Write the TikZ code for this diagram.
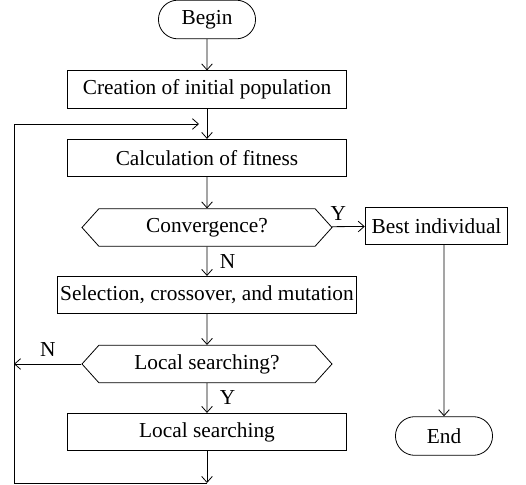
\documentclass[tikz,border=0pt]{standalone}
\usepackage{fontspec}
\setmainfont{Liberation Serif}
\usetikzlibrary{positioning,shapes.misc,shapes.symbols,arrows.meta}

\begin{document}
\begin{tikzpicture}[x=0.75pt,y=-0.75pt,line width=0.6pt,
  >={Straight Barb[length=4.5pt,width=8pt]},
  font=\fontsize{16}{18}\selectfont,
  box/.style={draw,minimum width=209pt,minimum height=28pt,inner sep=2pt},
  term/.style={draw,rounded rectangle,minimum width=79.5pt,minimum height=29pt},
  test/.style={draw,signal,signal to=east and west,signal pointer angle=96,
    minimum width=187.5pt,minimum height=28pt,inner sep=1pt}]
\useasboundingbox (0,0) rectangle (526,485);
\node[term] (begin) at (207,19.5) {Begin};
\node[box] (init) at (207,89.5) {Creation of initial population};
\node[box] (fit) at (207,158) {Calculation of fitness};
\node[test] (conv) at (207,227.5) {Convergence?};
\node[box,minimum width=107pt] (best) at (436.5,226) {Best individual};
\node[box,minimum width=223.5pt] (sel) at (207,295) {Selection, crossover, and mutation};
\node[test] (lsq) at (207,364) {Local searching?};
\node[box] (ls) at (207,432) {Local searching};
\node[term] (end) at (444,436) {End};
\coordinate (bot) at (207,483);
\coordinate (c1) at (14,483);
\coordinate (c2) at (14,124);
\coordinate (loopin) at (199,124);

\draw [->](begin)--(init);
\draw [->](init)--(fit);
\draw [->](fit)--(conv);
\draw [->](conv)--node[pos=0.2,above=1pt]{Y}(best);
\draw [->](conv)--node[right=6pt]{N}(sel);
\draw [->](sel)--(lsq);
\draw [->](lsq)--node[right=6pt]{Y}(ls);
\draw [->](lsq.west)--node[above=2pt]{N}(lsq.west -| c1);
\draw [->](ls)--(bot);
\draw [->](bot)--(c1)--(c2)--(loopin);
\draw [->](best.south -| end.north)--(end);
\end{tikzpicture}
\end{document}
